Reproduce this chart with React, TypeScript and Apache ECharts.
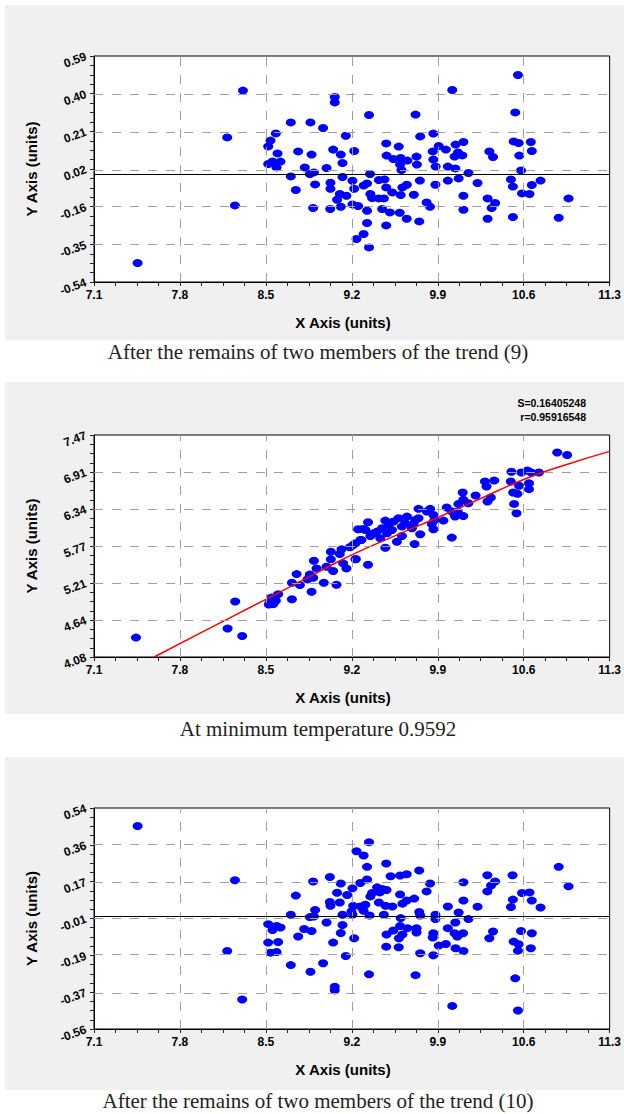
import React, { useEffect, useRef } from 'react';
import * as echarts from 'echarts';

// ---------- axis definitions ----------
const xMajor = [7.1, 7.8, 8.5, 9.2, 9.9, 10.6, 11.3];
const xLabels = ['7.1', '7.8', '8.5', '9.2', '9.9', '10.6', '11.3'];

const y1Range = [-0.54, 0.59];
const y1Labels = ['-0.54', '-0.35', '-0.16', '0.02', '0.21', '0.40', '0.59'];
const y2Range = [4.08, 7.47];
const y2Labels = ['4.08', '4.64', '5.21', '5.77', '6.34', '6.91', '7.47'];
const y3Range = [-0.56, 0.54];
const y3Labels = ['-0.56', '-0.37', '-0.19', '-0.01', '0.17', '0.36', '0.54'];

const captions = [
  'After the remains of two members of the trend (9)',
  'At minimum temperature 0.9592',
  'After the remains of two members of the trend (10)',
];
const axisTitleX = 'X Axis (units)';
const axisTitleY = 'Y Axis (units)';
const statS = 'S=0.16405248';
const statR = 'r=0.95916548';

// ---------- data ----------
const residuals9: [number, number][] = [
  [7.455, -0.445], [8.185, 0.183], [8.248, -0.157], [8.313, 0.417], [9.061, 0.358], [9.061, 0.385],
  [8.703, 0.258], [8.863, 0.258], [8.966, 0.230], [8.581, 0.203], [9.151, 0.191], [8.538, 0.167],
  [8.519, 0.138], [8.595, 0.103], [8.763, 0.113], [8.872, 0.097], [9.048, 0.122], [9.110, 0.097],
  [9.219, 0.115], [9.124, 0.055], [8.519, 0.050], [8.554, 0.063], [8.619, 0.062], [8.587, 0.033],
  [8.817, 0.033], [8.994, 0.030], [8.858, 0.000], [8.891, 0.008], [8.703, -0.012], [9.124, -0.015],
  [9.205, -0.034], [9.026, -0.044], [8.901, -0.052], [9.026, -0.074], [9.219, -0.074], [8.744, -0.080],
  [9.102, -0.100], [9.156, -0.109], [9.080, -0.129], [9.205, -0.152], [8.885, -0.170], [9.024, -0.175],
  [9.110, -0.164], [9.251, -0.160], [9.238, -0.325],
  [10.553, 0.495], [10.018, 0.420], [9.340, 0.295], [9.719, 0.297], [10.531, 0.308], [9.757, 0.188],
  [9.864, 0.202], [9.480, 0.153], [9.582, 0.137], [9.908, 0.140], [9.966, 0.122], [9.859, 0.113],
  [10.045, 0.147], [10.109, 0.160], [10.065, 0.108], [10.037, 0.087], [10.100, 0.093], [9.483, 0.092],
  [9.538, 0.075], [9.598, 0.080], [9.653, 0.067], [9.727, 0.087], [9.593, 0.047], [9.604, 0.020],
  [9.730, 0.047], [9.864, 0.072], [9.883, 0.037], [9.982, 0.037], [10.043, 0.028], [10.150, 0.005],
  [9.348, 0.000], [10.320, 0.113], [10.350, 0.085], [10.518, 0.163], [10.559, 0.155], [10.658, 0.160],
  [10.666, 0.115], [10.564, 0.092], [10.578, 0.018], [9.296, -0.058], [9.324, -0.047], [9.420, -0.030],
  [9.466, -0.027], [9.480, -0.067], [9.612, -0.067], [9.648, -0.054], [9.529, -0.092], [9.598, -0.105],
  [9.705, -0.104], [9.754, -0.033], [9.881, -0.054], [9.982, -0.033], [10.070, -0.022], [10.224, -0.045],
  [10.496, -0.027], [10.512, -0.063], [10.666, -0.055], [10.737, -0.033], [10.586, -0.097], [10.647, -0.100],
  [10.965, -0.122], [9.351, -0.100], [9.365, -0.120], [9.420, -0.122], [9.461, -0.122], [9.324, -0.184],
  [9.447, -0.175], [9.510, -0.192], [9.590, -0.194], [9.647, -0.224], [9.749, -0.237], [9.809, -0.142],
  [9.837, -0.164], [10.109, -0.109], [10.109, -0.179], [10.306, -0.122], [10.367, -0.145], [10.339, -0.170],
  [10.306, -0.224], [10.512, -0.215], [10.885, -0.219], [9.324, -0.245], [9.480, -0.257], [9.296, -0.300],
  [9.340, -0.367],
];

const observed: [number, number][] = [
  [7.442, 4.376], [8.188, 4.514], [8.250, 4.928], [8.307, 4.402], [8.524, 4.882], [8.546, 4.989],
  [8.581, 4.938], [8.600, 5.040], [8.560, 4.887], [8.533, 4.923], [8.712, 4.963], [8.712, 5.214],
  [8.750, 5.346], [8.777, 5.178], [8.872, 5.076], [8.839, 5.265], [8.885, 5.290], [8.858, 5.341],
  [8.891, 5.550], [8.913, 5.433], [8.972, 5.214], [8.994, 5.459], [9.029, 5.571], [9.048, 5.392],
  [9.029, 5.688], [9.075, 5.183], [9.116, 5.724], [9.129, 5.510], [9.102, 5.652], [9.156, 5.433],
  [9.184, 5.755], [9.211, 5.790], [9.232, 5.576], [9.251, 6.030], [9.278, 5.867], [9.292, 6.035],
  [10.873, 7.204], [10.954, 7.164], [10.500, 6.908], [10.581, 6.898], [10.630, 6.929], [10.662, 6.898],
  [10.724, 6.898], [10.495, 6.760], [10.562, 6.694], [10.643, 6.735], [10.643, 6.643], [10.514, 6.592],
  [10.549, 6.571], [10.522, 6.418], [10.541, 6.275], [10.284, 6.760], [10.360, 6.776], [10.297, 6.684],
  [10.208, 6.546], [10.332, 6.515], [10.305, 6.454], [10.103, 6.592], [10.108, 6.480], [10.068, 6.418],
  [10.149, 6.428], [9.973, 6.362], [10.014, 6.301], [10.062, 6.301], [10.108, 6.234], [10.041, 6.224],
  [9.946, 6.163], [9.865, 6.250], [9.838, 6.342], [9.743, 6.342], [9.811, 6.301], [9.873, 6.173],
  [9.851, 6.112], [9.865, 6.030], [10.014, 5.903], [9.743, 6.199], [9.716, 6.173], [9.757, 5.954],
  [9.703, 6.107], [9.649, 6.224], [9.581, 6.199], [9.635, 6.122], [9.689, 6.046], [9.608, 6.071],
  [9.540, 6.148], [9.473, 6.163], [9.500, 6.097], [9.527, 6.020], [9.446, 6.046], [9.405, 5.995],
  [9.332, 6.137], [9.311, 6.020], [9.351, 5.928], [9.432, 5.892], [9.473, 5.749], [9.567, 5.841],
  [9.608, 5.928], [9.711, 5.806], [9.270, 5.867], [9.230, 5.816], [9.230, 5.571], [9.332, 5.489],
  [9.487, 5.969], [9.378, 5.969],
];

const fitCurve: [number, number][] = [
  [7.59, 4.08], [8.0, 4.48], [8.5, 4.96], [9.0, 5.45], [9.2, 5.64], [9.55, 5.93], [9.9, 6.21],
  [10.25, 6.5], [10.6, 6.79], [10.95, 7.02], [11.3, 7.22],
];

const residuals10: [number, number][] = [
  [7.455, 0.450], [8.248, 0.180], [8.185, -0.172], [8.307, -0.413], [9.238, 0.325], [9.021, 0.197],
  [8.885, 0.174], [9.110, 0.164], [9.205, 0.140], [9.080, 0.118], [9.162, 0.107], [8.744, 0.104],
  [9.021, 0.072], [9.102, 0.070], [9.026, 0.053], [9.211, 0.053], [8.901, 0.032], [9.197, 0.025],
  [8.703, 0.009], [8.858, -0.003], [8.891, 0.000], [9.124, 0.009], [9.205, 0.009], [8.519, -0.038],
  [8.554, -0.067], [8.587, -0.047], [8.619, -0.055], [8.812, -0.062], [8.872, -0.072], [8.994, -0.030],
  [9.124, -0.042], [9.110, -0.082], [8.763, -0.100], [9.219, -0.108], [8.519, -0.130], [8.600, -0.127],
  [9.048, -0.130], [8.538, -0.180], [8.587, -0.177], [9.151, -0.197], [8.703, -0.242], [8.966, -0.233],
  [8.863, -0.275], [9.061, -0.350], [9.061, -0.367],
  [9.340, 0.370], [9.296, 0.304], [9.480, 0.264], [9.324, 0.247], [9.749, 0.229], [9.516, 0.200],
  [9.593, 0.204], [9.647, 0.210], [9.324, 0.184], [9.269, 0.167], [9.837, 0.164], [10.109, 0.170],
  [10.304, 0.205], [10.367, 0.174], [10.334, 0.154], [10.304, 0.125], [10.509, 0.205], [10.885, 0.247],
  [10.965, 0.150], [10.586, 0.117], [10.647, 0.120], [10.512, 0.084], [10.666, 0.079], [10.496, 0.047],
  [10.737, 0.045], [9.406, 0.145], [9.447, 0.137], [9.483, 0.132], [9.428, 0.120], [9.365, 0.117],
  [9.351, 0.100], [9.593, 0.110], [9.708, 0.089], [9.647, 0.080], [9.612, 0.064], [9.809, 0.125],
  [9.420, 0.070], [9.475, 0.053], [9.530, 0.050], [9.310, 0.058], [9.269, 0.050], [9.296, 0.028],
  [9.345, 0.005], [9.461, 0.009], [9.598, -0.008], [9.749, 0.022], [9.757, 0.005], [9.881, 0.009],
  [9.881, -0.013], [9.982, 0.050], [10.109, 0.080], [10.224, 0.049], [10.070, 0.020], [10.150, -0.013],
  [10.043, -0.030], [9.982, -0.058], [9.593, -0.047], [9.653, -0.058], [9.727, -0.058], [9.538, -0.070],
  [9.483, -0.090], [9.612, -0.090], [9.584, -0.108], [9.727, -0.080], [9.864, -0.083], [9.859, -0.105],
  [10.037, -0.083], [10.106, -0.083], [10.059, -0.100], [10.350, -0.075], [10.320, -0.108], [10.578, -0.072],
  [10.666, -0.083], [10.518, -0.125], [10.559, -0.138], [10.553, -0.170], [10.658, -0.158], [9.480, -0.150],
  [9.582, -0.153], [9.757, -0.183], [9.908, -0.145], [9.966, -0.137], [10.045, -0.158], [10.109, -0.172],
  [9.864, -0.193], [9.340, -0.288], [9.719, -0.292], [10.531, -0.308], [10.018, -0.445], [10.553, -0.468],
];

// ---------- helpers ----------
const FONT = '"Liberation Sans", Arial, Helvetica, sans-serif';
const SERIF = '"Liberation Serif", "Times New Roman", serif';

function majorsOf(range: number[]) {
  const out: number[] = [];
  for (let i = 0; i <= 6; i++) out.push(range[0] + ((range[1] - range[0]) * i) / 6);
  return out;
}
function subdivide(major: number[], n: number) {
  const out: number[] = [];
  for (let i = 0; i < major.length - 1; i++) {
    for (let k = 0; k < n; k++) out.push(major[i] + ((major[i + 1] - major[i]) * k) / n);
  }
  out.push(major[major.length - 1]);
  return out;
}
function labelFor(v: number, majors: number[], labels: string[]) {
  let best = 0;
  for (let i = 1; i < majors.length; i++) if (Math.abs(majors[i] - v) < Math.abs(majors[best] - v)) best = i;
  return labels[best];
}

const GRIDS = [
  { left: 94, top: 56, width: 516, height: 226 },
  { left: 94, top: 435, width: 516, height: 222 },
  { left: 94, top: 808, width: 516, height: 221 },
];
const PANELS = [
  { range: y1Range, labels: y1Labels, zero: true },
  { range: y2Range, labels: y2Labels, zero: false },
  { range: y3Range, labels: y3Labels, zero: true },
];
const BOXES = [
  { y: 5, h: 335, cap: 352 },
  { y: 382, h: 332, cap: 729 },
  { y: 757, h: 333, cap: 1101 },
];

export default function App() {
  const ref = useRef<HTMLDivElement>(null);
  useEffect(() => {
    if (!ref.current) return;
    const chart = echarts.init(ref.current, undefined, { renderer: 'svg' });
    const xTicks = subdivide(xMajor, 4);

    const xAxis: any[] = [];
    const yAxis: any[] = [];
    const series: any[] = [];
    const graphic: any[] = [];

    BOXES.forEach((b, i) => {
      graphic.push({
        type: 'rect', z: -10, shape: { x: 5, y: b.y, width: 619, height: b.h },
        style: { fill: '#f0f0f0' }, silent: true,
      });
      graphic.push({
        type: 'text', x: 318, y: b.cap, silent: true,
        style: { text: captions[i], font: `21px ${SERIF}`, fill: '#222', align: 'center', verticalAlign: 'middle' },
      });
      const g = GRIDS[i];
      graphic.push({
        type: 'text', x: 343, y: g.top + g.height + 40, silent: true,
        style: { text: axisTitleX, font: `bold 15px ${FONT}`, fill: '#000', align: 'center', verticalAlign: 'middle' },
      });
      graphic.push({
        type: 'text', x: 31, y: g.top + g.height / 2, rotation: Math.PI / 2, silent: true,
        style: { text: axisTitleY, font: `bold 15px ${FONT}`, fill: '#000', align: 'center', verticalAlign: 'middle' },
      });
    });
    graphic.push({
      type: 'text', x: 586, y: 403, silent: true,
      style: { text: statS, font: `bold 10.5px ${FONT}`, fill: '#000', align: 'right', verticalAlign: 'middle' },
    });
    graphic.push({
      type: 'text', x: 586, y: 417, silent: true,
      style: { text: statR, font: `bold 10.5px ${FONT}`, fill: '#000', align: 'right', verticalAlign: 'middle' },
    });

    const datasets = [residuals9, observed, residuals10];

    PANELS.forEach((p, i) => {
      const yMajor = majorsOf(p.range);
      const yTicks = subdivide(yMajor, 4);
      xAxis.push({
        type: 'value', gridIndex: i, min: 7.1, max: 11.3,
        axisLine: { show: true, onZero: false, lineStyle: { color: '#000', width: 1 } },
        axisTick: { show: true, customValues: xTicks, length: 4, lineStyle: { color: '#222' } },
        axisLabel: {
          customValues: xMajor, formatter: (v: number) => labelFor(v, xMajor, xLabels),
          fontFamily: FONT, fontWeight: 'bold', fontSize: 12, color: '#000', margin: 7,
        },
        splitLine: { show: false },
      });
      yAxis.push({
        type: 'value', gridIndex: i, min: p.range[0], max: p.range[1],
        axisLine: { show: true, onZero: false, lineStyle: { color: '#000', width: 1 } },
        axisTick: { show: true, customValues: yTicks, length: 4, lineStyle: { color: '#222' } },
        axisLabel: {
          customValues: yMajor, formatter: (v: number) => labelFor(v, yMajor, p.labels),
          fontFamily: FONT, fontWeight: 'bold', fontSize: 12, color: '#000', margin: 8, rotate: 20,
        },
        splitLine: { show: false },
      });
      series.push({
        type: 'scatter', xAxisIndex: i, yAxisIndex: i, data: [], silent: true, z: 1,
        markLine: {
          silent: true, symbol: ['none', 'none'], label: { show: false },
          lineStyle: { color: '#a0a0a0', width: 1, type: [9, 9] },
          data: [
            ...xMajor.slice(1, -1).map((v) => ({ xAxis: v })),
            ...yMajor.slice(1, -1).map((v) => ({ yAxis: v })),
          ],
        },
      });
      if (p.zero) {
        series.push({
          type: 'scatter', xAxisIndex: i, yAxisIndex: i, data: [], silent: true, z: 2,
          markLine: {
            silent: true, symbol: ['none', 'none'], label: { show: false },
            lineStyle: { color: '#000', width: 1, type: 'solid' },
            data: [{ yAxis: 0 }],
          },
        });
      }
      series.push({
        type: 'scatter', xAxisIndex: i, yAxisIndex: i, data: datasets[i], z: 3,
        symbol: 'circle', symbolSize: [10, 8], itemStyle: { color: '#0000ff', opacity: 1 },
      });
      if (i === 1) {
        series.push({
          type: 'line', xAxisIndex: 1, yAxisIndex: 1, data: fitCurve, z: 4, smooth: true,
          symbol: 'none', lineStyle: { color: '#ff0000', width: 1.5 }, clip: true,
        });
      }
    });

    chart.setOption({
      animation: false,
      backgroundColor: '#ffffff',
      grid: GRIDS.map((g) => ({ ...g, show: true, backgroundColor: '#ffffff', borderColor: '#000', borderWidth: 1 })),
      xAxis, yAxis, series, graphic,
    });
    return () => chart.dispose();
  }, []);
  return <div ref={ref} style={{ position: 'absolute', left: 0, top: 0, width: 624, height: 1114 }} />;
}
